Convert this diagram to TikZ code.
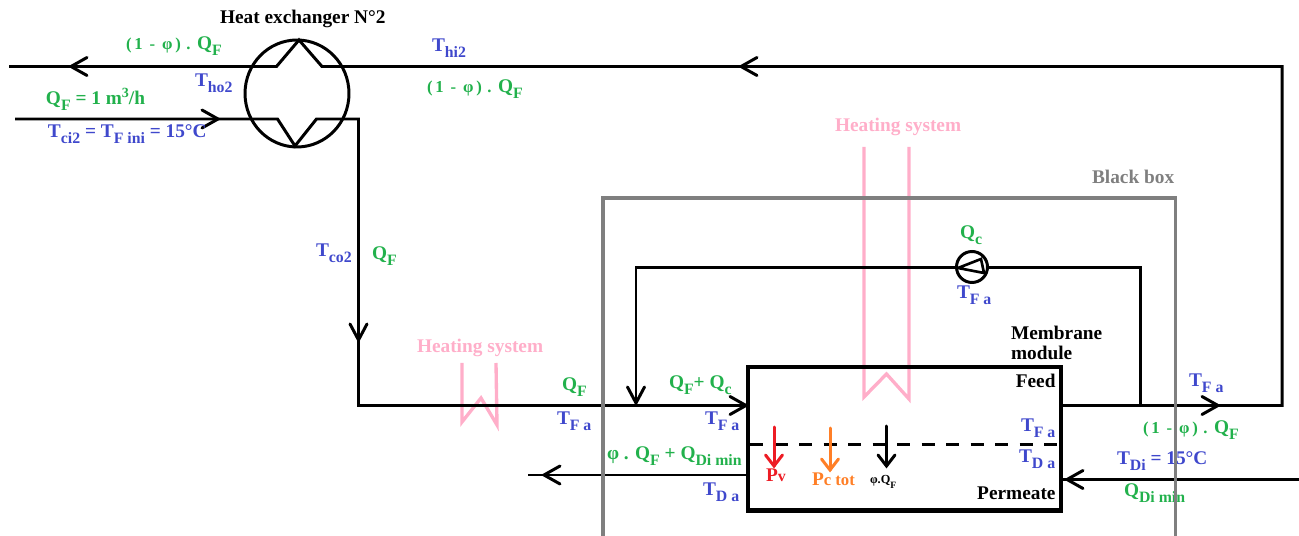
\documentclass[tikz,border=0pt]{standalone}
\usepackage{fontspec}
\usetikzlibrary{shapes.geometric}
\setmainfont{Liberation Serif}
\definecolor{cg}{HTML}{22B14C}
\definecolor{cb}{HTML}{3F48CC}
\definecolor{cp}{HTML}{FFAEC9}
\definecolor{cgy}{HTML}{7F7F7F}
\definecolor{cr}{HTML}{ED1C24}
\definecolor{co}{HTML}{FF7F27}
\newcommand{\Sb}[1]{\raisebox{-3.4pt}{\fontsize{9}{9}\selectfont #1}}
\newcommand{\Ph}{{\fontsize{9.5}{9.5}\selectfont (\,1\, -\, φ\,)\,\,.}}
\newcommand{\bR}[2][black]{\draw[barb,draw=#1] ([shift={(-16,-9)}]#2) -- (#2) -- ([shift={(-16,9)}]#2);}
\newcommand{\bL}[2][black]{\draw[barb,draw=#1] ([shift={(16,-9)}]#2) -- (#2) -- ([shift={(16,9)}]#2);}
\newcommand{\bD}[2][black]{\draw[barb,draw=#1] ([shift={(-8.5,-16)}]#2) -- (#2) -- ([shift={(8.5,-16)}]#2);}
\newcommand{\bF}[2][black]{\draw[barb,draw=#1] ([shift={(-8.5,-11)}]#2) -- (#2) -- ([shift={(8.5,-11)}]#2);}
\tikzset{
  x=0.02cm,y=-0.02cm,
  every node/.style={inner sep=0pt,outer sep=0pt,font=\fontsize{11}{11}\selectfont\bfseries},
  lab/.style={anchor=base west},
  gl/.style={lab,text=cg},
  bl/.style={lab,text=cb},
  kl/.style={lab,text=black},
  pl/.style={lab,text=cp},
  pipe/.style={draw=black,line width=1.7pt,line join=miter},
  pink/.style={draw=cp,line width=1.9pt},
  graybox/.style={draw=cgy,line width=2pt},
  barb/.style={line width=1.7pt,line cap=round,line join=miter},
  module/.style={draw=black,line width=2.6pt,rectangle,minimum width=6.26cm,minimum height=2.87cm,anchor=north west},
  exch/.style={draw=black,line width=1.7pt,ellipse,minimum width=2.08cm,minimum height=2.14cm},
  pumpc/.style={draw=black,line width=1.7pt,circle,minimum size=0.62cm},
}
\begin{document}
\begin{tikzpicture}
\useasboundingbox (0,0) rectangle (1299,536);
% heating systems
\draw[pink] (462,363) -- (462,422) -- (481,398) -- (497,425) -- (496,363);
\draw[pink] (864,147) -- (864,397) -- (886.5,374) -- (909,399) -- (909,147);
% main shapes
\node[module] (mod) at (748,367) {};
\node[exch] (hx) at (297,93.5) {};
\node[pumpc] (pump) at (972,267) {};
% named points
\coordinate (tl) at (9,66.5);
\coordinate (tr) at (1282,66.5);
\coordinate (br) at (1282,405.5);
\coordinate (il) at (15,119);
\coordinate (ic) at (358.5,119);
\coordinate (id) at (358.5,405.5);
\coordinate (rl) at (636,267.5);
\coordinate (rj) at (636,405.5);
\coordinate (rr) at (1140,267.5);
\coordinate (rk) at (1140,405.5);
\coordinate (outl) at (528,475);
\coordinate (inr) at (1299,479.5);
% pipes
\draw[pipe] (tl) -- (276.5,66.5) -- (299,40) -- (322,66.5) -- (tr) -- (br) -- (mod.east |- br);
\draw[pipe] (il) -- (277.5,119) -- (295,146) -- (316.5,119) -- (ic) -- (id) -- (mod.west |- id);
\draw[pipe] (rk) -- (rr) -- (pump.east |- rr);
\draw[pipe] (pump.west |- rl) -- (rl) -- (rj);
\draw[pipe] (mod.west |- outl) -- (outl);
\draw[pipe] (mod.east |- inr) -- (inr);
\draw[line width=1.5pt,line join=miter] (958,268) -- (981,259) -- (984,273) -- cycle;
% barbs
\coordinate (a1) at (71,66.5); \bL{a1}
\coordinate (a2) at (741,66.5); \bL{a2}
\coordinate (a3) at (218,119); \bR{a3}
\coordinate (a4) at (358.5,340); \bD{a4}
\coordinate (a5) at (636,403); \bD{a5}
\coordinate (a6) at (746,405.5); \bR{a6}
\coordinate (a7) at (1218,405.5); \bR{a7}
\coordinate (a8) at (544,475); \bL{a8}
\coordinate (a9) at (1067,479.5); \bL{a9}
% membrane dashes and fluxes
\draw[line width=1.8pt,dash pattern=on 7.4pt off 6.55pt] (mod.west |- 0,444.5) ++(2,0) -- (mod.east |- 0,444.5);
\coordinate (f1) at (774,466); \draw[barb,draw=cr] (774,427) -- (f1); \bF[cr]{f1}
\coordinate (f2) at (830,470); \draw[barb,draw=co] (830,428) -- (f2); \bF[co]{f2}
\coordinate (f3) at (886.5,466); \draw[barb] (886.5,426) -- (f3); \bF{f3}
% labels
\node[kl] (t1) at (220,24) {Heat exchanger N°2};
\node[gl] (t2) at (126,50) {\Ph{} Q\Sb{F}};
\node[bl] (t3) at (432,52) {T\Sb{hi2}};
\node[gl] (t4) at (427,93) {\Ph{} Q\Sb{F}};
\node[bl] (t5) at (195,87) {T\Sb{ho2}};
\node[gl] (t6) at (46,105) {Q\Sb{F} = 1 m\raisebox{4pt}{\fontsize{8}{8}\selectfont 3}/h};
\node[bl] (t7) at (48,138) {T\Sb{ci2} = T\Sb{F ini} = 15°C};
\node[bl] (t8) at (316,257) {T\Sb{co2}};
\node[gl] (t9) at (372,260) {Q\Sb{F}};
\node[pl] (t10) at (417,353) {Heating system};
\node[pl] (t11) at (835,132) {Heating system};
\node[gl] (t13) at (960,239) {Q\Sb{c}};
\node[bl] (t14) at (957,299) {T\Sb{F a}};
\node[kl] (t15) at (1011,340) {Membrane};
\node[kl] (t16) at (1011,360) {module};
\node[kl,anchor=base east] (t17) at (1055.5,388) {Feed};
\node[kl,anchor=base east] (t18) at (1055.5,500) {Permeate};
\node[bl] (t19) at (1021,432) {T\Sb{F a}};
\node[bl] (t20) at (1019,463) {T\Sb{D a}};
\node[bl] (t21) at (1189,387) {T\Sb{F a}};
\node[gl] (t22) at (1143,434) {\Ph{} Q\Sb{F}};
\node[bl] (t23) at (1117,465) {T\Sb{Di} = 15°C};
\node[gl] (t24) at (1124,497) {Q\Sb{Di min}};
\node[lab,text=cr] (t25) at (766,482) {P{\fontsize{9}{9}\selectfont v}};
\node[lab,text=co] (t26) at (812,486) {P{\fontsize{9.5}{9.5}\selectfont c tot}};
\node[kl,font=\fontsize{7}{7}\selectfont\bfseries] (t27) at (870,484) {φ.Q\raisebox{-2.5pt}{\fontsize{5.5}{5.5}\selectfont F}};
\node[gl] (t28) at (562,391) {Q\Sb{F}};
\node[bl] (t29) at (557,425) {T\Sb{F a}};
\node[gl] (t30) at (669,389) {Q\Sb{F}+ Q\Sb{c}};
\node[bl] (t31) at (705,425) {T\Sb{F a}};
\node[gl] (t32) at (607,460) {φ . Q\Sb{F} + Q\Sb{Di min}};
\node[bl] (t33) at (703,496) {T\Sb{D a}};
% black box
\node[lab,text=cgy] (t12) at (1092,184) {Black box};
\coordinate (g1) at (603,536);
\coordinate (g2) at (603,198);
\coordinate (g3) at (1175.5,198);
\coordinate (g4) at (1175.5,536);
\draw[graybox] (g1) -- (g2) -- (g3) -- (g4);
\end{tikzpicture}
\end{document}
